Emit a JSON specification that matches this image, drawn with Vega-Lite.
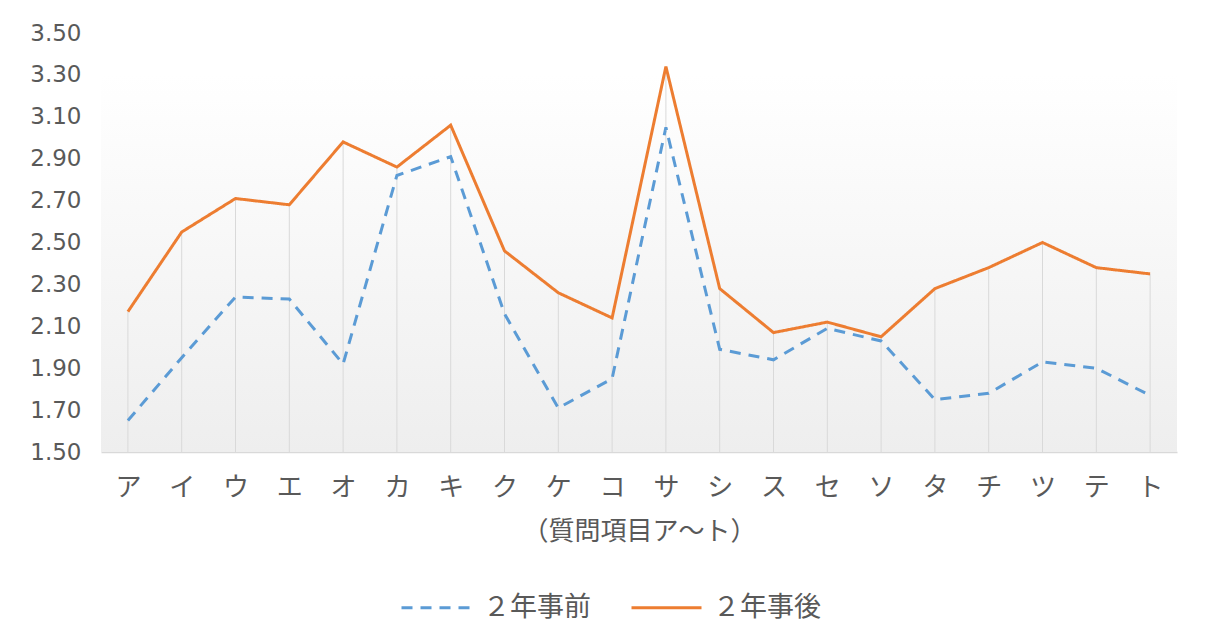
{
  "$schema": "https://vega.github.io/schema/vega-lite/v6.json",
  "width": 1076,
  "height": 419,
  "autosize": {"type": "none"},
  "padding": {"left": 101, "top": 33, "right": 31, "bottom": 192},
  "background": "#ffffff",
  "datasets": {
    "scores": [
      {"項目": "ア", "２年事前": 1.65, "２年事後": 2.17},
      {"項目": "イ", "２年事前": 1.95, "２年事後": 2.55},
      {"項目": "ウ", "２年事前": 2.24, "２年事後": 2.71},
      {"項目": "エ", "２年事前": 2.23, "２年事後": 2.68},
      {"項目": "オ", "２年事前": 1.92, "２年事後": 2.98},
      {"項目": "カ", "２年事前": 2.82, "２年事後": 2.86},
      {"項目": "キ", "２年事前": 2.91, "２年事後": 3.06},
      {"項目": "ク", "２年事前": 2.16, "２年事後": 2.46},
      {"項目": "ケ", "２年事前": 1.71, "２年事後": 2.26},
      {"項目": "コ", "２年事前": 1.85, "２年事後": 2.14},
      {"項目": "サ", "２年事前": 3.05, "２年事後": 3.34},
      {"項目": "シ", "２年事前": 1.99, "２年事後": 2.28},
      {"項目": "ス", "２年事前": 1.94, "２年事後": 2.07},
      {"項目": "セ", "２年事前": 2.09, "２年事後": 2.12},
      {"項目": "ソ", "２年事前": 2.03, "２年事後": 2.05},
      {"項目": "タ", "２年事前": 1.75, "２年事後": 2.28},
      {"項目": "チ", "２年事前": 1.78, "２年事後": 2.38},
      {"項目": "ツ", "２年事前": 1.93, "２年事後": 2.50},
      {"項目": "テ", "２年事前": 1.90, "２年事後": 2.38},
      {"項目": "ト", "２年事前": 1.77, "２年事後": 2.35}
    ]
  },
  "layer": [
    {
      "data": {"values": [{"bg": 1}]},
      "mark": {
        "type": "rect",
        "color": {
          "gradient": "linear",
          "x1": 0, "y1": 0, "x2": 0, "y2": 1,
          "stops": [
            {"offset": 0, "color": "#ffffff"},
            {"offset": 0.1, "color": "#ffffff"},
            {"offset": 1, "color": "#eeeeee"}
          ]
        }
      },
      "encoding": {
        "x": {"value": 0},
        "x2": {"value": "width"},
        "y": {"value": 0},
        "y2": {"value": "height"}
      }
    },
    {
      "data": {"name": "scores"},
      "mark": {"type": "rule", "color": "#d9d9d9", "strokeWidth": 1},
      "encoding": {
        "x": {"field": "項目", "type": "nominal"},
        "y": {"field": "２年事後", "type": "quantitative"},
        "y2": {"datum": 1.5}
      }
    },
    {
      "data": {"name": "scores"},
      "transform": [{"fold": ["２年事前", "２年事後"], "as": ["系列", "値"]}],
      "mark": {"type": "line", "strokeWidth": 3},
      "encoding": {
        "x": {"field": "項目", "type": "nominal"},
        "y": {"field": "値", "type": "quantitative"},
        "color": {
          "field": "系列",
          "type": "nominal",
          "scale": {"domain": ["２年事前", "２年事後"], "range": ["#5B9BD5", "#ED7D31"]},
          "legend": {
            "title": null,
            "orient": "none",
            "direction": "horizontal",
            "legendX": 299,
            "legendY": 538,
            "symbolType": "stroke",
            "symbolSize": 4900,
            "symbolStrokeWidth": 3,
            "labelFontSize": 27,
            "labelColor": "#595959",
            "labelFont": "Noto Sans CJK JP",
            "labelOffset": 10,
            "columnPadding": 34
          }
        },
        "strokeDash": {
          "field": "系列",
          "type": "nominal",
          "scale": {"domain": ["２年事前", "２年事後"], "range": [[11, 8], [1, 0]]},
          "legend": {
            "title": null,
            "orient": "none",
            "direction": "horizontal",
            "legendX": 299,
            "legendY": 538,
            "symbolType": "stroke",
            "symbolSize": 4900,
            "symbolStrokeWidth": 3,
            "labelFontSize": 27,
            "labelColor": "#595959",
            "labelFont": "Noto Sans CJK JP",
            "labelOffset": 10,
            "columnPadding": 34
          }
        }
      }
    }
  ],
  "resolve": {"scale": {"y": "shared", "x": "shared"}},
  "encoding": {
    "x": {
      "field": "項目",
      "type": "nominal",
      "scale": {
        "type": "point",
        "padding": 0.5,
        "domain": ["ア","イ","ウ","エ","オ","カ","キ","ク","ケ","コ","サ","シ","ス","セ","ソ","タ","チ","ツ","テ","ト"]
      },
      "axis": {
        "title": "（質問項目ア～ト）",
        "labelAngle": 0,
        "labelFontSize": 26,
        "labelColor": "#595959",
        "labelFont": "Noto Sans CJK JP",
        "labelPadding": 22,
        "ticks": false,
        "domainColor": "#d9d9d9",
        "domainWidth": 1.5,
        "grid": false,
        "titleFontSize": 26,
        "titleFontWeight": "normal",
        "titleColor": "#595959",
        "titleFont": "Noto Sans CJK JP",
        "titlePadding": 18
      }
    },
    "y": {
      "type": "quantitative",
      "scale": {"domain": [1.5, 3.5], "nice": false, "zero": false},
      "axis": {
        "title": null,
        "values": [1.5, 1.7, 1.9, 2.1, 2.3, 2.5, 2.7, 2.9, 3.1, 3.3, 3.5],
        "format": ".2f",
        "labelFontSize": 23,
        "labelColor": "#595959",
        "labelFont": "DejaVu Sans",
        "labelPadding": 20,
        "domain": false,
        "ticks": false,
        "grid": false
      }
    }
  },
  "config": {"view": {"stroke": null}}
}
